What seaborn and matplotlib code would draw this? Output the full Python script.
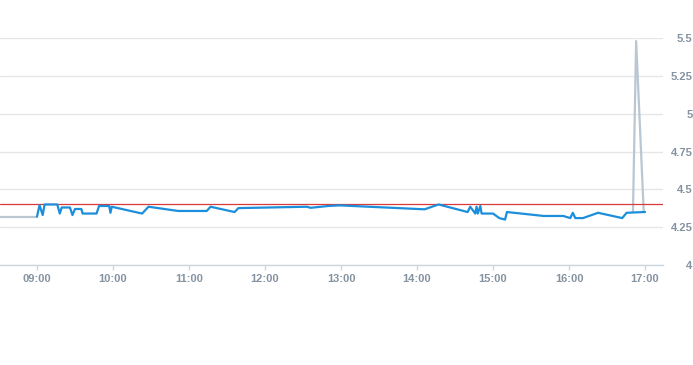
import matplotlib
matplotlib.use("Agg")
import matplotlib.pyplot as plt
import matplotlib.dates as mdates
import seaborn as sns
import pandas as pd

# ---- data ----
day = "2024-01-01 "
blue_times = ["09:00", "09:02", "09:04:30", "09:06", "09:16", "09:18", "09:19:30", "09:26",
              "09:28", "09:30", "09:35", "09:36", "09:47", "09:49", "09:57", "09:58",
              "09:59", "10:23", "10:28", "10:51:30", "11:14", "11:17", "11:36", "11:39",
              "12:33", "12:36", "12:50", "12:59", "14:06", "14:17", "14:40", "14:42",
              "14:46", "14:47", "14:48", "14:50", "14:51", "15:00", "15:05", "15:09:30",
              "15:11", "15:40", "15:55:30", "16:01", "16:03", "16:05", "16:11", "16:23",
              "16:42", "16:45:30", "16:59", "17:00"]
blue_values = [4.32, 4.395, 4.33, 4.40, 4.40, 4.34, 4.38, 4.38,
               4.33, 4.37, 4.37, 4.34, 4.34, 4.39, 4.39, 4.345,
               4.385, 4.34, 4.385, 4.357, 4.357, 4.385, 4.35, 4.376,
               4.385, 4.378, 4.39, 4.394, 4.368, 4.40, 4.35, 4.385,
               4.34, 4.385, 4.34, 4.39, 4.34, 4.34, 4.31, 4.30,
               4.35, 4.324, 4.324, 4.31, 4.345, 4.31, 4.31, 4.345,
               4.31, 4.345, 4.35, 4.35]

gray_start_times = ["08:20", "09:00"]
gray_start_values = [4.32, 4.32]
gray_end_times = ["16:50:30", "16:53", "16:59", "17:00"]
gray_end_values = [4.35, 5.48, 4.35, 4.35]

threshold = 4.4
y_ticks = [4, 4.25, 4.5, 4.75, 5, 5.25, 5.5]
y_tick_labels = ["4", "4.25", "4.5", "4.75", "5", "5.25", "5.5"]

def to_dt(ts):
    return pd.to_datetime([day + t for t in ts], format="mixed")

blue_df = pd.DataFrame({"time": to_dt(blue_times), "value": blue_values})
gs_df = pd.DataFrame({"time": to_dt(gray_start_times), "value": gray_start_values})
ge_df = pd.DataFrame({"time": to_dt(gray_end_times), "value": gray_end_values})

sns.set_style("white")
plt.rcParams["font.family"] = ["Liberation Sans", "DejaVu Sans"]
fig = plt.figure(figsize=(6.93, 3.65), dpi=100)
ax = fig.add_axes([0, 1 - 265 / 365, 663 / 693, (265 - 38) / 365])

gray_c = "#b9c7d2"
blue_c = "#1b8fdb"
tick_c = "#8593a1"

sns.lineplot(data=gs_df, x="time", y="value", ax=ax, color=gray_c, linewidth=1.6, zorder=2)
sns.lineplot(data=ge_df, x="time", y="value", ax=ax, color=gray_c, linewidth=1.6, zorder=2)
ax.axhline(threshold, color="#d83a3a", linewidth=0.9, zorder=3)
sns.lineplot(data=blue_df, x="time", y="value", ax=ax, color=blue_c, linewidth=1.6, zorder=4)

x0 = pd.Timestamp(day + "09:00") - pd.Timedelta(hours=37 / 76)
x1 = pd.Timestamp(day + "17:00") + pd.Timedelta(hours=18 / 76)
ax.set_xlim(x0, x1)
ax.set_ylim(4, 5.5)

ax.xaxis.set_major_locator(mdates.HourLocator())
ax.xaxis.set_major_formatter(mdates.DateFormatter("%H:%M"))
ax.set_yticks(y_ticks)
ax.set_yticklabels(y_tick_labels)
ax.yaxis.tick_right()
ax.tick_params(axis="y", length=0, pad=21.3, labelsize=8, labelcolor=tick_c)
for lab in ax.get_yticklabels():
    lab.set_horizontalalignment("right")
    lab.set_fontweight("bold")
ax.tick_params(axis="x", length=3.6, width=1, color="#ccd6df", pad=3,
               labelsize=8, labelcolor=tick_c, direction="out", bottom=True)
for lab in ax.get_xticklabels():
    lab.set_fontweight("bold")

ax.grid(axis="y", color="#e6e6e6", linewidth=1)
ax.grid(axis="x", visible=False)
ax.set_axisbelow(True)
for s in ["top", "left", "right"]:
    ax.spines[s].set_visible(False)
ax.spines["bottom"].set_color("#ccd6df")
ax.spines["bottom"].set_linewidth(1)
ax.set_xlabel("")
ax.set_ylabel("")

fig.savefig("out.png", dpi=100)
